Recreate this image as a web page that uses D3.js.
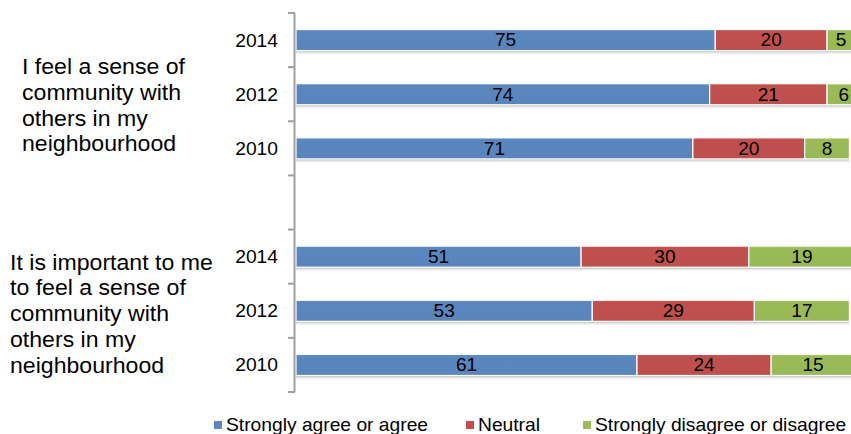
<!DOCTYPE html>
<html>
<head>
<meta charset="utf-8">
<script src="https://cdn.jsdelivr.net/npm/d3@7"></script>
<style>
  html, body { margin: 0; padding: 0; background: #fff; }
  svg { display: block; font-family: "Liberation Sans", Arial, sans-serif; }
</style>
</head>
<body>
<svg id="chart" width="851" height="434"></svg>
<script>
// Survey statements (each block of three years)
const statements = [
  ["I feel a sense of", "community with", "others in my", "neighbourhood"],
  ["It is important to me", "to feel a sense of", "community with", "others in my", "neighbourhood"]
];
const years = ["2014", "2012", "2010"];

// Rows, top to bottom: statement index + year
const rowKeys = ["s0-2014", "s0-2012", "s0-2010", "gap", "s1-2014", "s1-2012", "s1-2010"];

// Percentages per row (same order as rowKeys, skipping the gap)
const agree    = [75, 74, 71, 51, 53, 61];
const neutral  = [20, 21, 20, 30, 29, 24];
const disagree = [5, 6, 8, 19, 17, 15];

const seriesNames  = ["Strongly agree or agree", "Neutral", "Strongly disagree or disagree"];
const seriesColors = ["#5b87bf", "#c0504d", "#9bbb59"];

const svg = d3.select("#chart");

// Scales
const y = d3.scaleBand().domain(rowKeys).range([13, 392]).paddingInner(0.61).paddingOuter(0.305);
const x = d3.scaleLinear().domain([0, 100]).range([296, 855]);

// Slightly wide lettering
const place = (sel, px, py, sx) => sel.attr("transform", `translate(${px},${py}) scale(${sx},1)`);

// Row data built from the arrays
const dataRows = rowKeys.filter(k => k !== "gap").map((key, i) => ({
  key,
  year: key.split("-")[1],
  values: [agree[i], neutral[i], disagree[i]]
}));

const defs = svg.append("defs");
// Soft shadow under each bar
const shadow = defs.append("linearGradient").attr("id", "shadow")
  .attr("x1", 0).attr("y1", 0).attr("x2", 0).attr("y2", 1);
shadow.append("stop").attr("offset", "0%").attr("stop-color", "#a8a8a8").attr("stop-opacity", 0.9);
shadow.append("stop").attr("offset", "100%").attr("stop-color", "#ffffff").attr("stop-opacity", 0);

// Bar segment fill gradients (slight sheen)
seriesColors.forEach((c, i) => {
  const g = defs.append("linearGradient").attr("id", "fill" + i)
    .attr("x1", 0).attr("y1", 0).attr("x2", 0).attr("y2", 1);
  const base = d3.color(c);
  g.append("stop").attr("offset", "0%").attr("stop-color", base.brighter(0.35));
  g.append("stop").attr("offset", "8%").attr("stop-color", c);
  g.append("stop").attr("offset", "100%").attr("stop-color", base.darker(0.05));
});

const bh = y.bandwidth();

// Shadows
svg.append("g").selectAll("rect").data(dataRows).join("rect")
  .attr("x", x(0))
  .attr("y", d => y(d.key) + bh)
  .attr("width", d => x(d3.sum(d.values)) - x(0))
  .attr("height", 5)
  .attr("fill", "url(#shadow)");

// Stacked segments
const rows = svg.append("g").selectAll("g").data(dataRows).join("g");
rows.each(function (d) {
  let acc = 0;
  const segs = d.values.map((v, i) => {
    const s = { v, i, x0: acc, x1: acc + v };
    acc += v;
    return s;
  });
  const g = d3.select(this);
  g.selectAll("rect").data(segs).join("rect")
    .attr("x", s => x(s.x0))
    .attr("y", y(d.key))
    .attr("width", s => x(s.x1) - x(s.x0))
    .attr("height", bh)
    .attr("fill", s => "url(#fill" + s.i + ")")
    .attr("stroke", "#ffffff")
    .attr("stroke-width", 1.2);
  g.selectAll("text").data(segs).join("text")
    .each(function (s) {
      place(d3.select(this), (x(s.x0) + x(s.x1)) / 2, y(d.key) + bh / 2 + 6.3, 1.06);
    })
    .attr("text-anchor", "middle")
    .attr("font-size", 18)
    .attr("fill", "#000")
    .text(s => s.v);
});

// Vertical axis line and ticks at row boundaries
const axis = svg.append("g");
axis.append("line")
  .attr("x1", 294.5).attr("x2", 294.5)
  .attr("y1", y.range()[0]).attr("y2", y.range()[1])
  .attr("stroke", "#a0a0a0").attr("stroke-width", 2);
const tickYs = rowKeys.map((k, i) => y.range()[0] + i * y.step());
tickYs.push(y.range()[1]);
axis.selectAll("line.tick").data(tickYs).join("line")
  .attr("class", "tick")
  .attr("x1", 288).attr("x2", 295)
  .attr("y1", d => d).attr("y2", d => d)
  .attr("stroke", "#a0a0a0").attr("stroke-width", 2);

// Year labels
svg.append("g").selectAll("text").data(dataRows).join("text")
  .each(function (d) {
    place(d3.select(this), 278, y(d.key) + bh / 2 + 6.5, 1.1);
  })
  .attr("text-anchor", "end")
  .attr("font-size", 17.5)
  .attr("fill", "#000")
  .text(d => d.year);

// Statement labels
const stmtPos = [{ x: 22, y: 74 }, { x: 10, y: 269.5 }];
statements.forEach((lines, si) => {
  const t = svg.append("text")
    .attr("font-size", 22)
    .attr("fill", "#000");
  place(t, stmtPos[si].x, stmtPos[si].y, 1.05);
  lines.forEach((ln, li) => {
    t.append("tspan").attr("x", 0).attr("dy", li === 0 ? 0 : 25.8).text(ln);
  });
});

// Legend
const legendX = [214, 466, 583];
const legend = svg.append("g").selectAll("g").data(seriesNames).join("g")
  .attr("transform", (d, i) => `translate(${legendX[i]},421)`);
legend.append("rect").attr("width", 8).attr("height", 8)
  .attr("fill", (d, i) => seriesColors[i]);
legend.append("text")
  .each(function () { place(d3.select(this), 12, 9.5, 1.1); })
  .attr("font-size", 17.5).attr("fill", "#000")
  .text(d => d);
</script>
</body>
</html>
